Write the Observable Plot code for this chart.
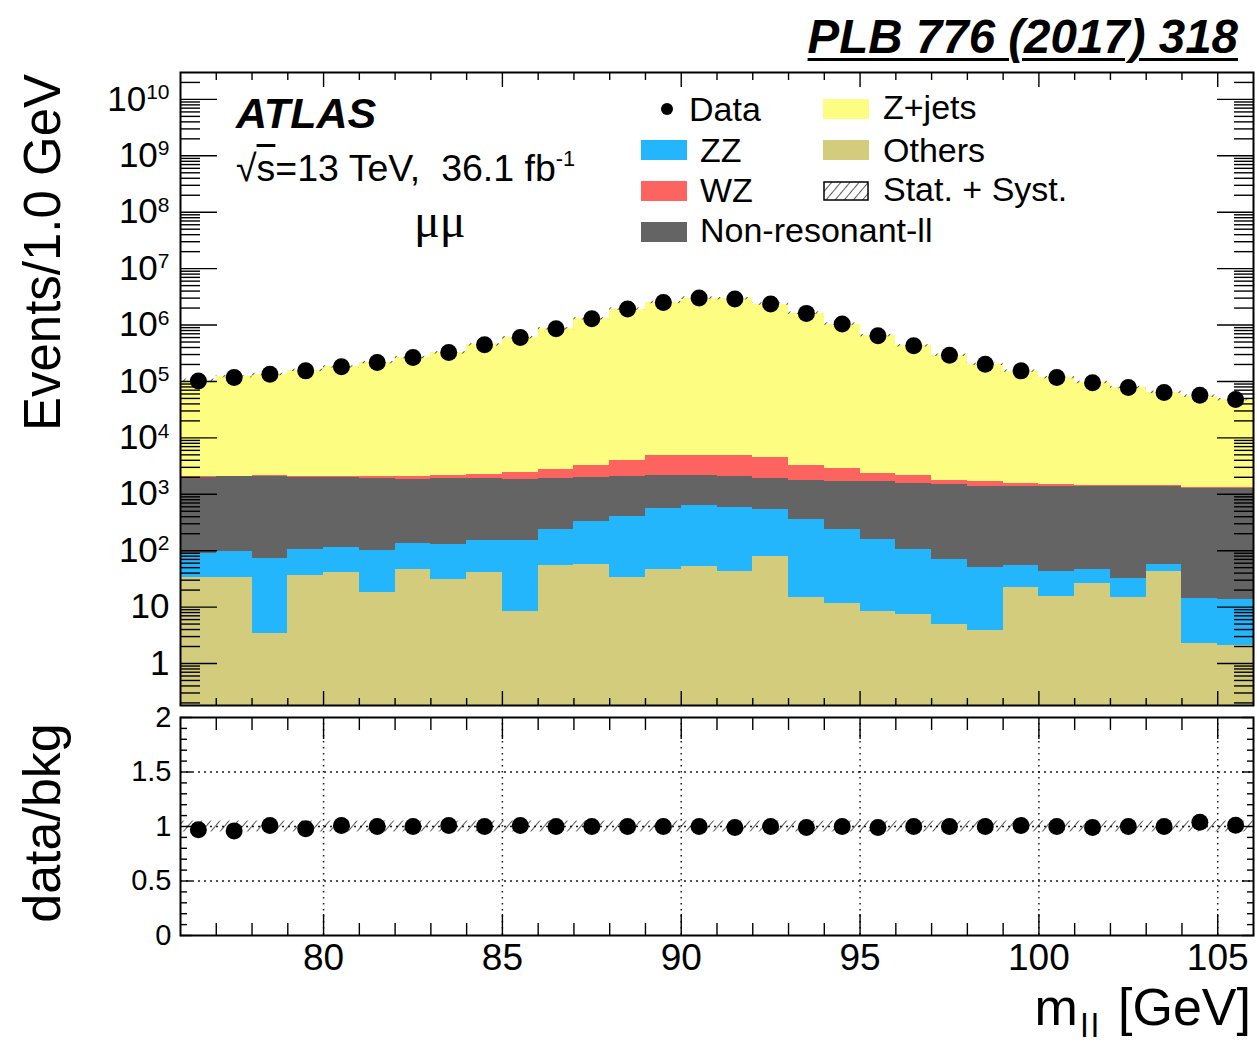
<!DOCTYPE html>
<html>
<head>
<meta charset="utf-8">
<script src="https://cdn.jsdelivr.net/npm/d3@7"></script>
<script src="https://cdn.jsdelivr.net/npm/@observablehq/plot@0.6"></script>
<style>
  body { margin: 0; background: #fff; }
  #fig { position: relative; width: 1257px; height: 1046px; overflow: hidden;
         font-family: "Liberation Sans", Arial, Helvetica, sans-serif; color: #000; }
  .t { position: absolute; white-space: nowrap; line-height: 1; }
  .sw { position: absolute; }
</style>
</head>
<body>
<svg width="0" height="0" style="position:absolute">
  <defs>
    <pattern id="hatch" patternUnits="userSpaceOnUse" width="7" height="7" patternTransform="rotate(40)">
      <line x1="0" y1="0" x2="0" y2="7" stroke="#000" stroke-width="1.3"></line>
    </pattern>
  </defs>
</svg>
<div id="fig"></div>
<script>
// ---- m_ll bins (1 GeV wide) ----
const binLow  = [76, 77, 78, 79, 80, 81, 82, 83, 84, 85, 86, 87, 88, 89, 90, 91, 92, 93, 94, 95, 96, 97, 98, 99, 100, 101, 102, 103, 104, 105];
const binHigh = [77, 78, 79, 80, 81, 82, 83, 84, 85, 86, 87, 88, 89, 90, 91, 92, 93, 94, 95, 96, 97, 98, 99, 100, 101, 102, 103, 104, 105, 106];

// ---- observed events per bin ----
const dataEvents = [1.02e5, 1.17e5, 1.34e5, 1.54e5, 1.83e5, 2.16e5, 2.65e5, 3.25e5, 4.46e5, 6.01e5,
                    8.6e5, 1.29e6, 1.92e6, 2.52e6, 3.01e6, 2.90e6, 2.36e6, 1.61e6, 1.04e6, 6.44e5,
                    4.28e5, 2.92e5, 2.02e5, 1.54e5, 1.17e5, 9.5e4, 7.8e4, 6.4e4, 5.7e4, 4.8e4];

// ---- background predictions per bin ----
const zjets  = [1.031e5, 1.198e5, 1.305e5, 1.551e5, 1.791e5, 2.139e5, 2.63e5, 3.197e5, 4.438e5, 5.927e5,
                8.572e5, 1.287e6, 1.916e6, 2.515e6, 3.005e6, 2.924e6, 2.356e6, 1.623e6, 1.037e6, 6.481e5,
                4.259e5, 2.902e5, 2.003e5, 1.509e5, 1.155e5, 9.45e4, 7.65e4, 6.26e4, 5.35e4, 4.62e4];
const wz     = [40, 50, 60, 80, 110, 140, 180, 240, 330, 600, 850, 1300, 1990, 2685, 2810,
                2765, 2530, 1500, 1200, 700, 560, 300, 260, 170, 160, 100, 95, 90, 80, 60];
const nonres = [1900, 1950, 2030, 1840, 1850, 1820, 1720, 1740, 1750, 1650, 1670, 1650, 1630, 1570, 1500,
                1460, 1360, 1420, 1420, 1500, 1450, 1420, 1350, 1340, 1310, 1310, 1320, 1300, 1250, 1230];
const zz     = [56, 62, 70, 69, 73, 84, 88, 100, 113, 145, 183, 277, 377, 514, 573,
                541, 467, 342, 226, 150, 98, 65, 46, 33, 27, 20, 18, 15, 12, 11.5];
const others = [33, 33, 3.4, 37, 41, 18, 46, 31, 41, 8.5, 55, 57, 33, 46, 52,
                42, 78, 15, 11.6, 8.2, 7.5, 4.9, 3.9, 22, 15.6, 26, 14.6, 42, 2.3, 2.1];

// ---- relative stat. + syst. uncertainty on the prediction ----
const relUnc = [0.05, 0.05, 0.05, 0.05, 0.05, 0.05, 0.05, 0.05, 0.05, 0.05, 0.05, 0.05, 0.05, 0.05, 0.05,
                0.05, 0.05, 0.05, 0.05, 0.05, 0.05, 0.05, 0.05, 0.05, 0.05, 0.05, 0.05, 0.05, 0.05, 0.05];

// stacking order (bottom to top) and colours
const procKeys   = ["Others", "ZZ", "Non-resonant-ll", "WZ", "Z+jets"];
const procValues = [others, zz, nonres, wz, zjets];
const procColors = ["#d3cc7c", "#23b6fc", "#646464", "#fd6460", "#fdfd82"];

// axis tick values
const yDomain = [0.18, 3e10];
const xDomain = [76, 106];
const yMajor = [1, 10, 1e2, 1e3, 1e4, 1e5, 1e6, 1e7, 1e8, 1e9, 1e10];
const xMajor = [80, 85, 90, 95, 100, 105];
const rMajor = [0, 0.5, 1, 1.5, 2];

const yMinor = [];
for (let k = -1; k <= 10; k++) for (let m = 2; m <= 9; m++) {
  const v = m * Math.pow(10, k);
  if (v > yDomain[0] && v < yDomain[1]) yMinor.push(v);
}
const xMinor = binLow.filter(v => v > xDomain[0] && v % 5 !== 0);
const rMinor = d3.range(1, 20).map(i => i / 10).filter(v => Math.round(v * 10) % 5 !== 0);

// ---- table rows ----
const rows = binLow.map((lo, i) => {
  const total = procValues.reduce((s, arr) => s + arr[i], 0);
  return {lo, hi: binHigh[i], mid: (lo + binHigh[i]) / 2, data: dataEvents[i], total,
          unc: relUnc[i], ratio: dataEvents[i] / total};
});
const stacked = [];
rows.forEach((r, i) => {
  let cum = 0;
  procKeys.forEach((key, j) => {
    const y1 = cum === 0 ? yDomain[0] : cum;
    cum += procValues[j][i];
    stacked.push({lo: r.lo, hi: r.hi, y1, y2: cum, key});
  });
});

// inward-pointing frame ticks (ROOT style)
function ticksY(ticks, size, w = 1.4) {
  return [
    Plot.axisY({anchor: "left", ticks, tickSize: size, dx: size, tickFormat: () => "", label: null, strokeWidth: w}),
    Plot.axisY({anchor: "right", ticks, tickSize: size, dx: -size, tickFormat: () => "", label: null, strokeWidth: w})
  ];
}
function ticksX(ticks, size, w = 1.4) {
  return [
    Plot.axisX({anchor: "bottom", ticks, tickSize: size, dy: -size, tickFormat: () => "", label: null, strokeWidth: w}),
    Plot.axisX({anchor: "top", ticks, tickSize: size, dy: size, tickFormat: () => "", label: null, strokeWidth: w})
  ];
}
const fontFamily = '"Liberation Sans", Arial, Helvetica, sans-serif';
const powFormat = d => d === 1 ? "1" : d === 10 ? "10" : "10^" + Math.round(Math.log10(d));

// ---- upper panel: stacked m_ll distribution ----
const mainPlot = Plot.plot({
  width: 1257, height: 711,
  marginLeft: 180, marginRight: 4, marginTop: 72, marginBottom: 6,
  x: {domain: xDomain},
  y: {type: "log", domain: yDomain},
  color: {domain: procKeys, range: procColors},
  style: {fontFamily, color: "black", background: "transparent", position: "absolute", left: "0px", top: "0px",
          overflow: "visible"},
  marks: [
    Plot.rectY(stacked, {x1: "lo", x2: "hi", y1: "y1", y2: "y2", fill: "key", inset: 0, shapeRendering: "crispEdges"}),
    Plot.rectY(rows, {x1: "lo", x2: "hi", y1: d => d.total * (1 - d.unc), y2: d => d.total * (1 + d.unc),
                      fill: "url(#hatch)", inset: 0}),
    Plot.dot(rows, {x: "mid", y: "data", r: 8.5, fill: "black"}),
    Plot.axisY({anchor: "left", ticks: yMajor, tickSize: 0, tickPadding: 11, tickFormat: powFormat,
                label: null, fontSize: 35}),
    ...ticksY(yMajor, 37),
    ...ticksY(yMinor, 20),
    ...ticksX(xMajor, 14),
    ...ticksX(xMinor, 7),
    Plot.frame({stroke: "black", strokeWidth: 2})
  ]
});

// superscript exponents on the log-axis labels
d3.select(mainPlot).selectAll("text").each(function () {
  const t = this.textContent;
  if (t.includes("^")) {
    const [base, exp] = t.split("^");
    const s = d3.select(this);
    s.text(base);
    s.append("tspan").attr("dy", "-0.55em").attr("font-size", "0.6em").text(exp);
  }
});

// ---- lower panel: data / background ----
const ratioPlot = Plot.plot({
  width: 1257, height: 356,
  marginLeft: 180, marginRight: 4, marginTop: 27, marginBottom: 111,
  x: {domain: xDomain},
  y: {domain: [0, 2]},
  style: {fontFamily, color: "black", background: "transparent", position: "absolute", left: "0px", top: "690px",
          overflow: "visible"},
  marks: [
    Plot.gridX({ticks: xMajor, stroke: "black", strokeOpacity: 0.9, strokeDasharray: "1.5,4.5", strokeWidth: 1.5}),
    Plot.gridY({ticks: [0.5, 1, 1.5], stroke: "black", strokeOpacity: 0.9, strokeDasharray: "2,4", strokeWidth: 1.5}),
    Plot.rectY(rows, {x1: "lo", x2: "hi", y1: d => 1 - d.unc, y2: d => 1 + d.unc, fill: "url(#hatch)", inset: 0}),
    Plot.dot(rows, {x: "mid", y: "ratio", r: 8.5, fill: "black"}),
    Plot.axisY({anchor: "left", ticks: rMajor, tickSize: 0, tickPadding: 9, tickFormat: d => String(d),
                label: null, fontSize: 29}),
    Plot.axisX({anchor: "bottom", ticks: xMajor, tickSize: 0, tickPadding: 8, tickFormat: d => String(d),
                label: null, fontSize: 37}),
    ...ticksY(rMajor, 12),
    ...ticksY(rMinor, 7),
    ...ticksX(xMajor, 21),
    ...ticksX(xMinor, 12),
    Plot.frame({stroke: "black", strokeWidth: 2})
  ]
});

const fig = document.getElementById("fig");
fig.appendChild(mainPlot);
fig.appendChild(ratioPlot);

// ---- text helpers ----
// place text by its baseline (Liberation Sans metrics, line-height 1)
function addText(html, x, baseline, size, opts = {}) {
  const el = document.createElement("div");
  el.className = "t";
  el.innerHTML = html;
  el.style.fontSize = size + "px";
  el.style.top = (baseline - 0.8465 * size) + "px";
  if (opts.anchor === "end") el.style.right = (1257 - x) + "px";
  else el.style.left = x + "px";
  if (opts.style) Object.assign(el.style, opts.style);
  fig.appendChild(el);
  return el;
}
// vertical axis title, reading bottom to top
function addVertical(html, baselineX, centerY, size) {
  const w = 500;
  const el = document.createElement("div");
  el.className = "t";
  el.innerHTML = html;
  el.style.fontSize = size + "px";
  el.style.width = w + "px";
  el.style.textAlign = "center";
  const cx = baselineX - (0.8465 * size - size / 2);
  el.style.left = (cx - w / 2) + "px";
  el.style.top = (centerY - size / 2) + "px";
  el.style.transform = "rotate(-90deg)";
  fig.appendChild(el);
}

// reference tag
addText("PLB 776 (2017) 318", 1238, 53, 47.5,
        {anchor: "end", style: {fontWeight: "bold", fontStyle: "italic", textDecoration: "underline",
                                textDecorationThickness: "3px", textUnderlineOffset: "5px"}});

// axis titles
addVertical("Events/1.0 GeV", 60, 252, 51);
addVertical("data/bkg", 60, 823, 52);
addText('m<span style="font-size:0.64em;vertical-align:-12px;letter-spacing:3px;margin:0 2px 0 3px">ll</span> [GeV]',
        1251, 1025, 52, {anchor: "end"});

// ATLAS label block
addText("ATLAS", 236, 128, 43, {style: {fontWeight: "bold", fontStyle: "italic"}});
addText('√<span style="text-decoration:overline">s</span>=13 TeV,&nbsp; 36.1 fb<span style="font-size:0.58em;vertical-align:15px">-1</span>',
        236, 180, 37.5);
addText("μμ", 414, 238, 48, {style: {fontFamily: '"Liberation Serif", "DejaVu Serif", serif'}});

// legend
const legendSize = 34;
function swatch(x, yTop, color, hatched) {
  if (hatched) {
    const ns = "http://www.w3.org/2000/svg";
    const s = document.createElementNS(ns, "svg");
    s.setAttribute("width", 46); s.setAttribute("height", 20);
    s.style.position = "absolute"; s.style.left = x + "px"; s.style.top = yTop + "px";
    const r = document.createElementNS(ns, "rect");
    r.setAttribute("x", 1); r.setAttribute("y", 1); r.setAttribute("width", 44); r.setAttribute("height", 18);
    r.setAttribute("fill", "url(#hatch)"); r.setAttribute("stroke", "#000"); r.setAttribute("stroke-width", 1.5);
    s.appendChild(r);
    fig.appendChild(s);
  } else {
    const d = document.createElement("div");
    d.className = "sw";
    Object.assign(d.style, {left: x + "px", top: yTop + "px", width: "46px", height: "20px", background: color});
    fig.appendChild(d);
  }
}
const dot = document.createElement("div");
Object.assign(dot.style, {position: "absolute", left: "661px", top: "103px", width: "12px", height: "12px",
                          borderRadius: "50%", background: "#000"});
fig.appendChild(dot);
addText("Data", 689, 121, legendSize);
swatch(641, 140, procColors[1]); addText("ZZ", 700, 162, legendSize);
swatch(641, 181, procColors[3]); addText("WZ", 700, 202, legendSize);
swatch(641, 222, procColors[2]); addText("Non-resonant-ll", 700, 242, legendSize);
swatch(823, 99, procColors[4]); addText("Z+jets", 883, 119, legendSize);
swatch(823, 140, procColors[0]); addText("Others", 883, 162, legendSize);
swatch(823, 181, null, true); addText("Stat. + Syst.", 883, 201, legendSize);
</script>
</body>
</html>
